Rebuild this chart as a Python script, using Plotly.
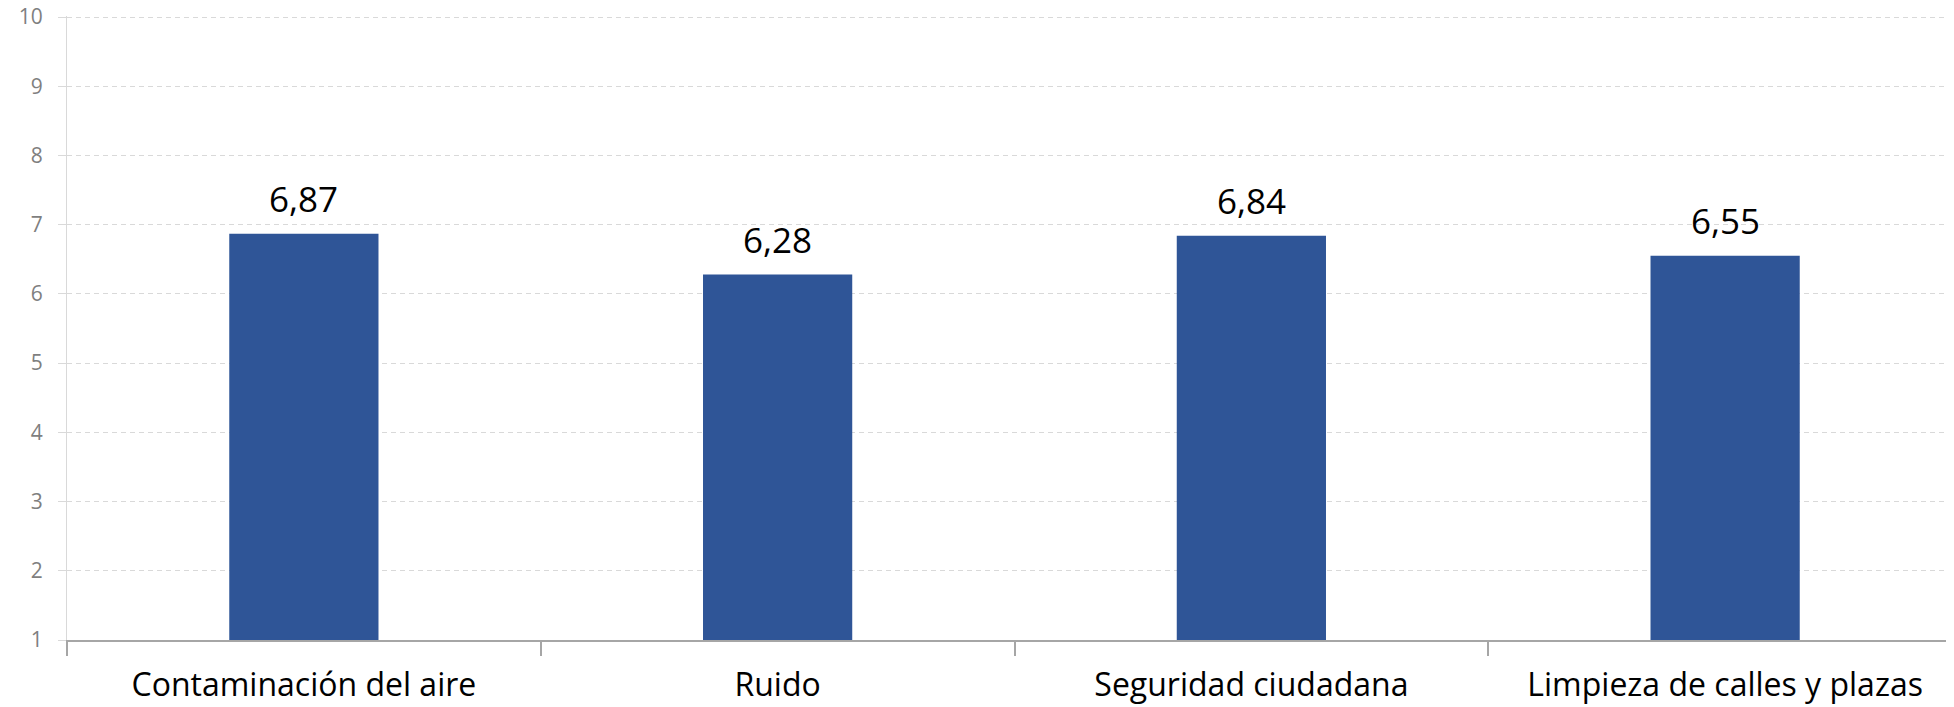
import plotly.graph_objects as go

categories = ["Contaminación del aire", "Ruido", "Seguridad ciudadana", "Limpieza de calles y plazas"]
values = [6.87, 6.28, 6.84, 6.55]
labels = ["6,87", "6,28", "6,84", "6,55"]
y_ticks = [1, 2, 3, 4, 5, 6, 7, 8, 9, 10]

fig = go.Figure()
fig.add_trace(go.Bar(
    x=categories, y=values,
    marker=dict(color="#2F5597", line=dict(width=0)),
    width=0.315,
    hoverinfo="skip",
))
for c, v, t in zip(categories, values, labels):
    fig.add_annotation(x=c, y=v, text=t, showarrow=False, yanchor="bottom",
                       yshift=10, font=dict(family="Open Sans", size=35, color="#000000"))

fig.update_layout(
    width=1954, height=707,
    margin=dict(l=59, r=0, t=8, b=75),
    plot_bgcolor="white", paper_bgcolor="white",
    showlegend=False,
    xaxis=dict(
        type="category", range=[-0.5, 3.5], automargin=False,
        tickson="boundaries", ticks="outside", ticklen=14, tickcolor="#a6a6a6", tickwidth=1.5,
        showline=True, linecolor="#a6a6a6", linewidth=1.5,
        showgrid=False,
        tickfont=dict(family="Open Sans", size=32, color="#000000"),
        ticklabelstandoff=16,
    ),
    yaxis=dict(
        range=[1, 10.015], tickvals=y_ticks, ticktext=[str(v) for v in y_ticks], automargin=False,
        showgrid=True, gridcolor="#d9d9d9", griddash="5px,4px", gridwidth=1,
        showline=True, linecolor="#d9d9d9", linewidth=1,
        ticks="outside", ticklen=8, tickcolor="#d9d9d9",
        tickfont=dict(family="Open Sans", size=21, color="#7f7f7f"),
        ticklabelstandoff=11,
        ticklabeloverflow="allow",
        zeroline=False,
    ),
)
fig.write_html("out.html")
